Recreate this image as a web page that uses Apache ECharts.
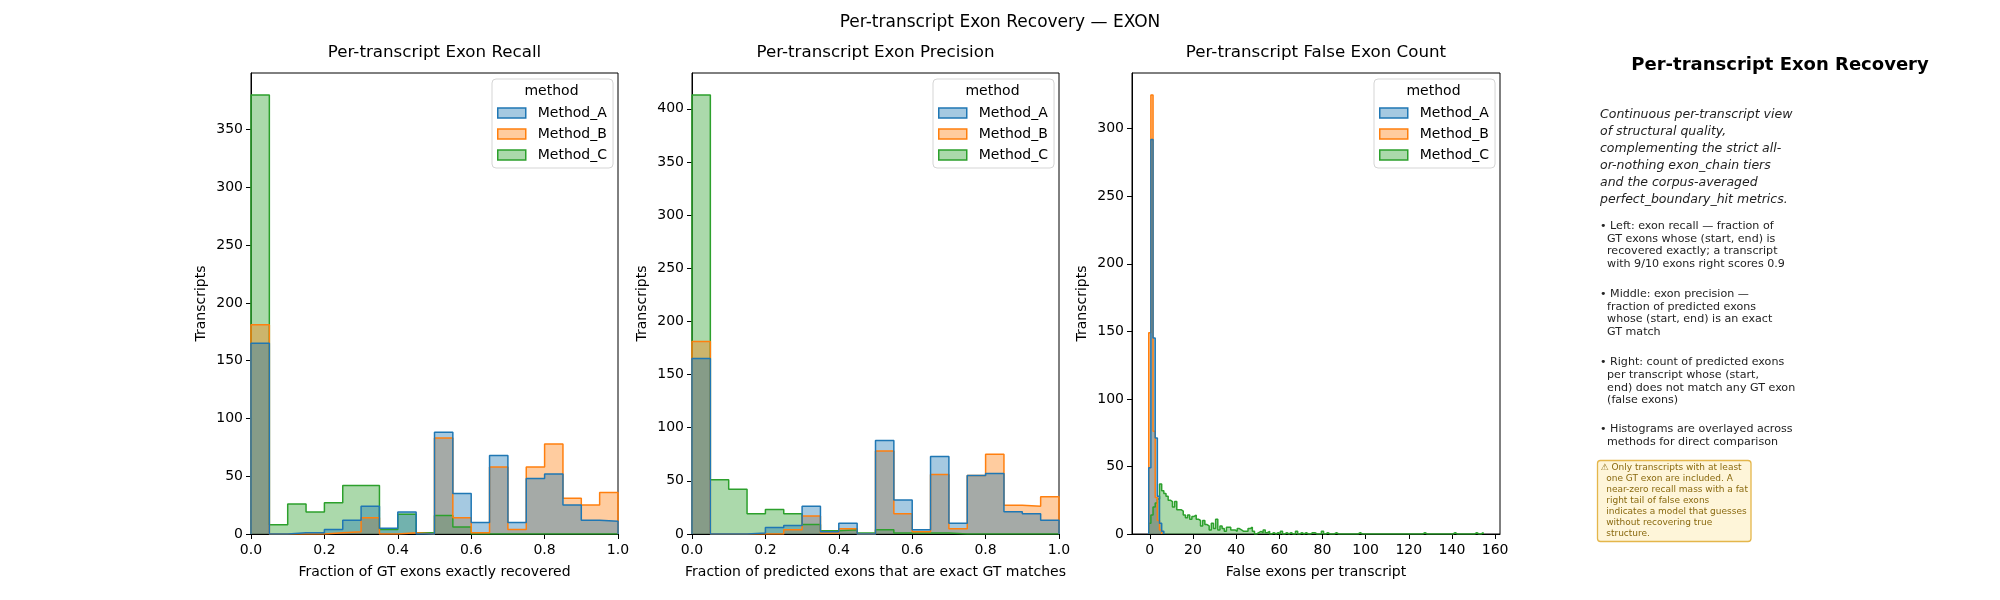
<!DOCTYPE html>
<html>
<head>
<meta charset="utf-8">
<script src="https://cdn.jsdelivr.net/npm/echarts@6/dist/echarts.min.js"></script>
<style>
  html, body { margin: 0; padding: 0; background: #fff; }
  #chart { width: 2000px; height: 600px; }
</style>
</head>
<body>
<div id="chart"></div>
<script>
const METHODS = ['Method_A', 'Method_B', 'Method_C'];
const COLORS = ['#1f77b4', '#ff7f0e', '#2ca02c'];
const FILLS = ['rgba(31,119,180,0.4)', 'rgba(255,127,14,0.4)', 'rgba(44,160,44,0.4)'];

// fraction bins (0.05 wide) shared by recall and precision
const FRACTION_EDGES = [0, 0.05, 0.1, 0.15, 0.2, 0.25, 0.3, 0.35, 0.4, 0.45, 0.5,
  0.55, 0.6, 0.65, 0.7, 0.75, 0.8, 0.85, 0.9, 0.95, 1.0];

const recallA = [165, 0, 1, 1, 4, 12, 24, 5, 19, 0, 88, 35, 10, 68, 10, 48, 52, 25, 12, 11];
const recallB = [181, 0, 0, 0, 1, 2, 14, 0, 1, 0, 83, 14, 1, 58, 4, 58, 78, 31, 25, 36];
const recallC = [380, 8, 26, 19, 27, 42, 42, 4, 17, 1, 16, 6, 0, 0, 0, 0, 0, 0, 0, 0];

const precisionA = [165, 0, 0, 1, 6, 8, 26, 2, 10, 0, 88, 32, 4, 73, 10, 55, 57, 21, 19, 13];
const precisionB = [181, 0, 0, 0, 0, 4, 17, 1, 5, 0, 78, 19, 2, 56, 5, 55, 75, 27, 26, 35];
const precisionC = [413, 51, 42, 19, 23, 19, 9, 3, 4, 1, 4, 1, 1, 1, 0, 0, 0, 0, 0, 0];

// false exon counts, one bin per integer starting at 0
const falseA = [49, 292, 145, 71, 28, 8, 2];
const falseB = [149, 325, 76, 27, 10, 3];
const falseC = [
  8, 14, 20, 23, 26, 37, 32, 30, 28, 25,
  24, 20, 24, 18, 18, 17, 14, 12, 14, 11,
  13, 14, 11, 10, 6, 10, 7, 6, 3, 8,
  4, 11, 3, 6, 4, 2, 5, 5, 3, 3,
  2, 4, 3, 2, 2, 2, 4, 5, 2, 0,
  1, 2, 1, 3, 1, 2, 0, 1, 0, 1,
  0, 2, 0, 1, 0, 1, 0, 0, 2, 0,
  1, 0, 1, 0, 0, 1, 1, 0, 0, 0,
  2, 0, 1, 0, 0, 0, 1, 0, 0, 0,
  0, 0, 0, 0, 0, 0, 0, 1, 0, 0,
  0, 0, 0, 0, 0, 0, 0, 0, 0, 0,
  0, 0, 0, 0, 0, 0, 0, 0, 0, 0,
  0, 0, 0, 0, 0, 0, 0, 1, 0, 0,
  0, 0, 0, 0, 0, 0, 0, 0, 0, 0,
  0, 1, 0, 0, 0, 0, 0, 0, 0, 0,
  0, 1, 0, 0, 1
];

const FRACTION_TICKS = [0, 0.2, 0.4, 0.6, 0.8, 1.0];
const FALSE_TICKS = [0, 20, 40, 60, 80, 100, 120, 140, 160];
const RECALL_YTICKS = [0, 50, 100, 150, 200, 250, 300, 350];
const PRECISION_YTICKS = [0, 50, 100, 150, 200, 250, 300, 350, 400];
const FALSE_YTICKS = [0, 50, 100, 150, 200, 250, 300];

const FONT = '"DejaVu Sans", sans-serif';

function integerEdges(counts) {
  const edges = [];
  for (let i = 0; i <= counts.length; i++) edges.push(i - 0.5);
  return edges;
}

// outline of a step histogram: up at the first edge, across each bin, down at the end
function stepPoints(edges, counts) {
  const pts = [[edges[0], 0]];
  counts.forEach((c, i) => {
    pts.push([edges[i], c]);
    pts.push([edges[i + 1], c]);
  });
  pts.push([edges[counts.length], 0]);
  return pts;
}

function histSeries(idx, gridIdx, edges, counts) {
  return {
    name: METHODS[idx],
    type: 'line',
    xAxisIndex: gridIdx,
    yAxisIndex: gridIdx,
    data: stepPoints(edges, counts),
    symbol: 'none',
    showSymbol: false,
    lineStyle: { color: COLORS[idx], width: 1.5 },
    itemStyle: { color: COLORS[idx] },
    areaStyle: { color: FILLS[idx], opacity: 1 },
    silent: true,
    z: 2
  };
}

const GRIDS = [
  { left: 251, top: 73, width: 367, height: 461 },
  { left: 692, top: 73, width: 367, height: 461 },
  { left: 1132, top: 73, width: 368, height: 461 }
];

function xAxis(gridIdx, min, max, ticks, name, fmt) {
  return {
    type: 'value', gridIndex: gridIdx, min, max,
    name, nameLocation: 'middle', nameGap: 31,
    nameTextStyle: { fontFamily: FONT, fontSize: 14, color: '#000' },
    axisLine: { show: true, onZero: false, lineStyle: { color: '#000', width: 1 } },
    axisTick: { show: true, length: 5, lineStyle: { color: '#000' }, customValues: ticks },
    axisLabel: { show: true, margin: 9, fontFamily: FONT, fontSize: 14, color: '#000',
      customValues: ticks, formatter: fmt },
    splitLine: { show: false }
  };
}

function yAxis(gridIdx, max, ticks) {
  return {
    type: 'value', gridIndex: gridIdx, min: 0, max,
    name: 'Transcripts', nameLocation: 'middle', nameGap: 43,
    nameTextStyle: { fontFamily: FONT, fontSize: 14, color: '#000' },
    axisLine: { show: true, onZero: false, lineStyle: { color: '#000', width: 1 } },
    axisTick: { show: true, length: 5, lineStyle: { color: '#000' }, customValues: ticks },
    axisLabel: { show: true, margin: 8, fontFamily: FONT, fontSize: 14, color: '#000',
      customValues: ticks },
    splitLine: { show: false }
  };
}

const fracFmt = v => v.toFixed(1);

function legendAt(left) {
  return {
    orient: 'vertical', left, top: 79,
    data: METHODS.map((m, i) => ({
      name: m, icon: 'rect',
      itemStyle: { color: FILLS[i], borderColor: COLORS[i], borderWidth: 1.5 }
    })),
    itemWidth: 28, itemHeight: 10, itemGap: 7,
    padding: [27, 6, 6, 5],
    backgroundColor: 'rgba(255,255,255,0.8)',
    borderColor: '#d5d5d5', borderWidth: 1, borderRadius: 4,
    textStyle: { fontFamily: FONT, fontSize: 14, color: '#000', padding: [0, 0, 0, 7] },
    selectedMode: false
  };
}

const LEGEND_LEFTS = [492, 933, 1374];

const series = [];
[[recallA, recallB, recallC], [precisionA, precisionB, precisionC]].forEach((set, g) => {
  // drawn C, B, A so that Method_A ends up on top
  [2, 1, 0].forEach(i => series.push(histSeries(i, g, FRACTION_EDGES, set[i])));
});
[2, 1, 0].forEach(i => {
  const counts = [falseA, falseB, falseC][i];
  series.push(histSeries(i, 2, integerEdges(counts), counts));
});

const subTitles = ['Per-transcript Exon Recall', 'Per-transcript Exon Precision', 'Per-transcript False Exon Count'];

const graphic = [];
subTitles.forEach((t, i) => {
  graphic.push({
    type: 'text', x: GRIDS[i].left + GRIDS[i].width / 2, y: 53,
    style: { text: t, font: '16.7px ' + FONT, fill: '#000', align: 'center', verticalAlign: 'middle' }
  });
});
LEGEND_LEFTS.forEach(l => {
  graphic.push({
    type: 'text', x: l + 59.5, y: 91, z: 100,
    style: { text: 'method', font: '14px ' + FONT, fill: '#000', align: 'center', verticalAlign: 'middle' }
  });
});

// right-hand description panel
graphic.push(
  { type: 'text', x: 1780, y: 65,
    style: { text: 'Per-transcript Exon Recovery', font: 'bold 18px ' + FONT, fill: '#000',
      align: 'center', verticalAlign: 'middle' } },
  { type: 'text', x: 1600, y: 105.8,
    style: { text: 'Continuous per-transcript view\nof structural quality,\ncomplementing the strict all-\nor-nothing exon_chain tiers\nand the corpus-averaged\nperfect_boundary_hit metrics.',
      font: 'italic 12.5px ' + FONT, lineHeight: 17, fill: '#222', align: 'left', verticalAlign: 'top' } },
  { type: 'text', x: 1600, y: 219.7,
    style: { text: '• Left: exon recall — fraction of\n  GT exons whose (start, end) is\n  recovered exactly; a transcript\n  with 9/10 exons right scores 0.9',
      font: '11.1px ' + FONT, lineHeight: 12.67, fill: '#222', align: 'left', verticalAlign: 'top' } },
  { type: 'text', x: 1600, y: 287.7,
    style: { text: '• Middle: exon precision —\n  fraction of predicted exons\n  whose (start, end) is an exact\n  GT match',
      font: '11.1px ' + FONT, lineHeight: 12.67, fill: '#222', align: 'left', verticalAlign: 'top' } },
  { type: 'text', x: 1600, y: 356,
    style: { text: '• Right: count of predicted exons\n  per transcript whose (start,\n  end) does not match any GT exon\n  (false exons)',
      font: '11.1px ' + FONT, lineHeight: 12.67, fill: '#222', align: 'left', verticalAlign: 'top' } },
  { type: 'text', x: 1600, y: 423,
    style: { text: '• Histograms are overlayed across\n  methods for direct comparison',
      font: '11.1px ' + FONT, lineHeight: 12.67, fill: '#222', align: 'left', verticalAlign: 'top' } },
  { type: 'rect', shape: { x: 1597.5, y: 460.5, width: 153.5, height: 81, r: 3 },
    style: { fill: '#fef5d9', stroke: '#e4b64b', lineWidth: 1.3 } },
  { type: 'text', x: 1600.5, y: 462.2,
    style: { text: '⚠ Only transcripts with at least\n  one GT exon are included. A\n  near-zero recall mass with a fat\n  right tail of false exons\n  indicates a model that guesses\n  without recovering true\n  structure.',
      font: '9px ' + FONT, lineHeight: 11, fill: '#8a6a10', align: 'left', verticalAlign: 'top' } }
);

const chart = echarts.init(document.getElementById('chart'), null, { renderer: 'canvas' });
chart.setOption({
  backgroundColor: '#fff',
  animation: false,
  title: {
    text: 'Per-transcript Exon Recovery — EXON',
    left: 'center', top: 9,
    textStyle: { fontFamily: FONT, fontSize: 17, fontWeight: 'normal', color: '#000' }
  },
  grid: GRIDS.map(g => Object.assign({ show: true, borderColor: '#000', borderWidth: 1,
    backgroundColor: 'transparent', containLabel: false }, g)),
  xAxis: [
    xAxis(0, 0, 1, FRACTION_TICKS, 'Fraction of GT exons exactly recovered', fracFmt),
    xAxis(1, 0, 1, FRACTION_TICKS, 'Fraction of predicted exons that are exact GT matches', fracFmt),
    xAxis(2, -8.25, 162.25, FALSE_TICKS, 'False exons per transcript', v => String(v))
  ],
  yAxis: [
    yAxis(0, 399, RECALL_YTICKS),
    yAxis(1, 433.65, PRECISION_YTICKS),
    yAxis(2, 341.25, FALSE_YTICKS)
  ],
  legend: LEGEND_LEFTS.map(legendAt),
  series,
  graphic
});
</script>
</body>
</html>
